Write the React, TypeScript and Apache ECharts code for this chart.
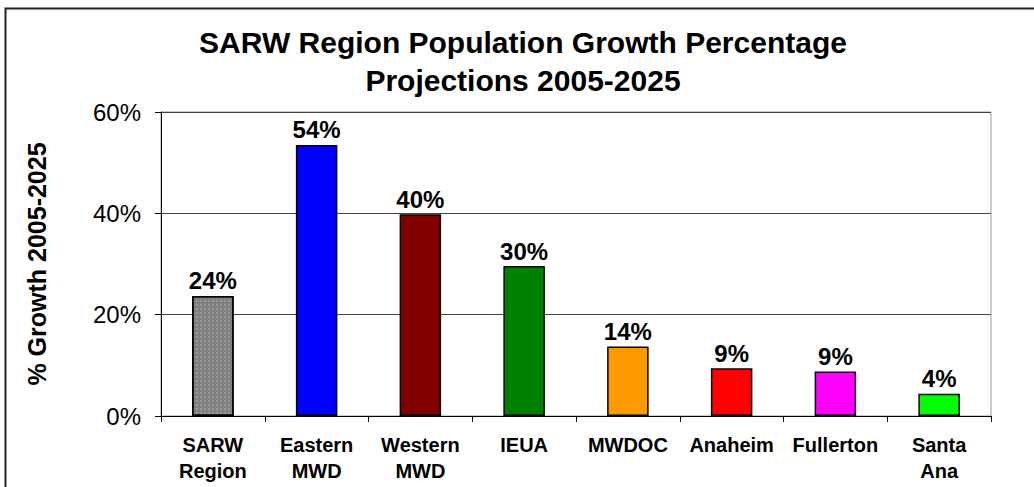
import React, { useEffect, useRef } from "react";
import * as echarts from "echarts";

const categories = ["SARW\nRegion", "Eastern\nMWD", "Western\nMWD", "IEUA", "MWDOC", "Anaheim", "Fullerton", "Santa\nAna"];
const growthValues = [23.7, 53.5, 39.8, 29.6, 13.7, 9.4, 8.8, 4.4];
const barColors = ["#808080", "#0000FF", "#800000", "#008000", "#FF9900", "#FF0000", "#FF00FF", "#00FF00"];
const titleText = "SARW Region Population Growth Percentage\nProjections 2005-2025";
const yAxisName = "% Growth 2005-2025";

const FONT = "'Liberation Sans', Arial, sans-serif";

export default function App() {
  const ref = useRef<HTMLDivElement>(null);
  useEffect(() => {
    const chart = echarts.init(ref.current!, null, { renderer: "svg" });
    chart.setOption({
      animation: false,
      backgroundColor: "#ffffff",
      title: {
        text: titleText,
        left: 523,
        textAlign: "center",
        top: 23,
        padding: 0,
        textStyle: { fontFamily: FONT, fontSize: 30, fontWeight: "bold", color: "#000", lineHeight: 38 },
      },
      graphic: [
        {
          type: "rect",
          shape: { x: 5.5, y: 8.5, width: 1100, height: 600 },
          style: { fill: "none", stroke: "#222", lineWidth: 2 },
          silent: true,
          z: 100,
        },
      ],
      grid: {
        left: 161,
        right: 43,
        top: 112,
        bottom: 71,
        show: true,
        borderColor: "#999",
        borderWidth: 1,
        backgroundColor: "#fff",
      },
      xAxis: {
        type: "category",
        data: categories,
        axisLine: { lineStyle: { color: "#000", width: 1 } },
        axisTick: { show: true, length: 6, lineStyle: { color: "#000" } },
        axisLabel: {
          fontFamily: FONT,
          fontSize: 20,
          fontWeight: "bold",
          color: "#000",
          lineHeight: 26,
          margin: 16,
          interval: 0,
        },
      },
      yAxis: {
        type: "value",
        min: 0,
        max: 60,
        interval: 20,
        name: yAxisName,
        nameLocation: "middle",
        nameGap: 112,
        nameTextStyle: { fontFamily: FONT, fontSize: 25, fontWeight: "bold", color: "#000" },
        axisLine: { show: true, lineStyle: { color: "#000", width: 1 } },
        axisTick: { show: true, length: 6, lineStyle: { color: "#000" } },
        axisLabel: {
          formatter: "{value}%",
          fontFamily: FONT,
          fontSize: 24,
          color: "#000",
          margin: 20,
        },
        splitLine: { show: true, lineStyle: { color: "#444", width: 1 } },
      },
      series: [
        {
          type: "bar",
          barWidth: "40%",
          data: growthValues.map((v, i) => ({
            value: v,
            itemStyle: {
              color: barColors[i],
              borderColor: "#000",
              borderWidth: 1.5,
              ...(i === 0
                ? {
                    decal: {
                      symbol: "circle",
                      symbolSize: 0.6,
                      color: "#c4c4c4",
                      dashArrayX: [2, 1.4],
                      dashArrayY: [2, 1.4],
                      rotation: 0,
                    },
                  }
                : {}),
            },
          })),
          label: {
            show: true,
            position: "top",
            distance: 3,
            formatter: (p: any) => Math.round(p.value) + "%",
            fontFamily: FONT,
            fontSize: 24,
            fontWeight: "bold",
            color: "#000",
          },
        },
      ],
    });
    return () => chart.dispose();
  }, []);
  return <div ref={ref} style={{ position: "fixed", left: 0, top: 0, width: 1034, height: 487 }} />;
}
